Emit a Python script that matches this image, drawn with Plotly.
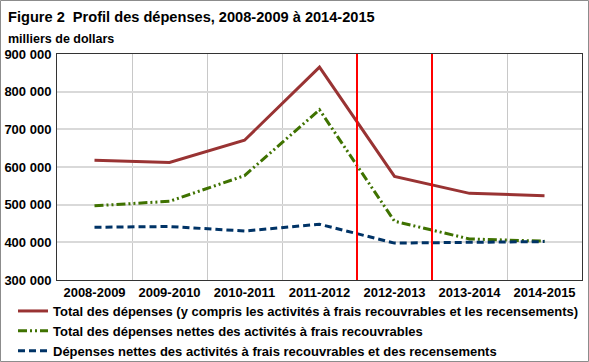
import plotly.graph_objects as go

years = ["2008-2009", "2009-2010", "2010-2011", "2011-2012",
         "2012-2013", "2013-2014", "2014-2015"]
total = [618000, 612000, 671000, 865000, 575000, 530000, 524000]
net_recoverable = [497000, 509000, 577000, 752000, 456000, 409000, 403000]
net_recov_census = [440000, 442000, 430000, 448000, 398000, 399000, 402000]

names = [
    "Total des dépenses (y compris les activités à frais recouvrables et les recensements)",
    "Total des dépenses nettes des activités à frais recouvrables",
    "Dépenses nettes des activités à frais recouvrables et des recensements",
]

W, H = 589, 362
L, R, T, B = 57, 7, 54, 82
pw, ph = W - L - R, H - T - B

font = "Liberation Sans, Arial, sans-serif"
bold13 = dict(size=13, family=font, weight="bold", color="black")

fig = go.Figure()
fig.add_trace(go.Scatter(x=years, y=total, mode="lines", name=names[0],
                         line=dict(color="#993333", width=3)))
fig.add_trace(go.Scatter(x=years, y=net_recoverable, mode="lines", name=names[1],
                         line=dict(color="#3f7200", width=3, dash="9px,3px,2px,3px,2px,3px")))
fig.add_trace(go.Scatter(x=years, y=net_recov_census, mode="lines", name=names[2],
                         line=dict(color="#003366", width=3, dash="7px,4px")))

# red separators between 2011-2012 / 2012-2013 / 2013-2014
for xv in (3.5, 4.5):
    fig.add_shape(type="line", xref="x", yref="paper", x0=xv, x1=xv, y0=0, y1=1,
                  line=dict(color="#ff0000", width=2))

# outer frame
fig.add_shape(type="rect", xref="paper", yref="paper",
              x0=(0.5 - L) / pw, x1=(W - 0.5 - L) / pw,
              y0=-(H - 0.5 - T - ph) / ph, y1=1 + (T - 0.5) / ph,
              line=dict(color="#8c8c8c", width=1))

fig.add_annotation(text="<b>Figure 2&nbsp; Profil des dépenses, 2008-2009 à 2014-2015</b>",
                   xref="paper", yref="paper", x=(6 - L) / pw, y=1 + (T - 7) / ph,
                   xanchor="left", yanchor="top", showarrow=False,
                   font=dict(size=14.6, color="black"))
fig.add_annotation(text="<b>milliers de dollars</b>",
                   xref="paper", yref="paper", x=(6 - L) / pw, y=1 + (T - 30) / ph,
                   xanchor="left", yanchor="top", showarrow=False,
                   font=dict(size=12.5, color="black"))

fig.update_layout(
    width=W, height=H,
    margin=dict(l=L, r=R, t=T, b=B, pad=0, autoexpand=False),
    paper_bgcolor="white", plot_bgcolor="white",
    font=dict(family=font, size=12, color="black"),
    separators=", ",
    showlegend=True,
    legend=dict(x=(13 - L) / pw, y=-(296 - T - ph) / ph, xanchor="left", yanchor="top",
                orientation="v", bgcolor="rgba(0,0,0,0)",
                font=bold13, tracegroupgap=0, traceorder="normal"),
)
fig.update_xaxes(type="category", tickson="boundaries", showgrid=True,
                 gridcolor="#c8c8c8", gridwidth=1, ticks="",
                 showline=True, linecolor="#333333", linewidth=1, mirror=True,
                 tickfont=bold13, automargin=False,
                 range=[-0.5, 6.5])
fig.update_yaxes(range=[300000, 900000], dtick=100000, tickformat=",d",
                 showgrid=True, gridcolor="#d9d9d9", gridwidth=1.5, ticks="",
                 showline=True, linecolor="#333333", linewidth=1, mirror=True,
                 zeroline=False, automargin=False, ticklabelstandoff=2,
                 tickfont=bold13)

fig.write_html("out.html", config={"displayModeBar": False},
               post_script="document.body.style.margin='0';document.body.style.overflow='hidden';")
